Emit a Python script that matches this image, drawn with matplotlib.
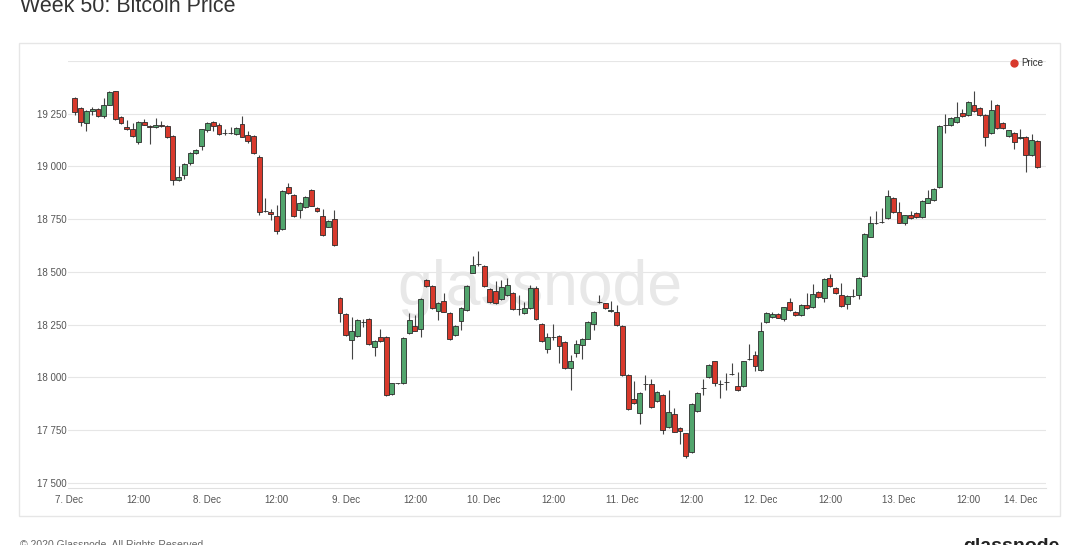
import matplotlib.pyplot as plt
from matplotlib.patches import Rectangle
from matplotlib.lines import Line2D

# Precio horario de Bitcoin, semana 50 (7-14 Dic 2020); x = horas desde 7 Dic 00:00
hours = list(range(1, 169))

opens = [19324, 19277, 19206, 19264, 19272, 19237, 19293, 19358, 19234, 19185,
         19177, 19114, 19210, 19192, 19185, 19197, 19193, 19146, 18937, 18961,
         19016, 19066, 19095, 19171, 19209, 19198, 19160, 19158, 19155, 19203,
         19150, 19146, 19047, 18790, 18785, 18763, 18703, 18905, 18866, 18794,
         18810, 18889, 18803, 18766, 18715, 18752, 18378, 18301, 18178, 18197,
         18265, 18279, 18146, 18190, 18193, 17922, 17972, 17972, 18209, 18244,
         18228, 18462, 18434, 18317, 18363, 18305, 18202, 18269, 18320, 18497,
         18536, 18529, 18418, 18409, 18371, 18391, 18402, 18323, 18305, 18328,
         18423, 18254, 18135, 18190, 18197, 18170, 18044, 18115, 18154, 18183,
         18254, 18358, 18352, 18317, 18312, 18244, 18012, 17897, 17830, 17969,
         17969, 17890, 17917, 17766, 17827, 17762, 17735, 17648, 17841, 17949,
         18000, 18076, 17968, 17979, 18016, 17960, 17960, 18088, 18107, 18036,
         18265, 18286, 18300, 18276, 18360, 18310, 18297, 18343, 18333, 18404,
         18375, 18473, 18425, 18391, 18349, 18387, 18391, 18481, 18668, 18731,
         18736, 18755, 18850, 18782, 18734, 18771, 18779, 18760, 18829, 18842,
         18905, 19197, 19198, 19209, 19253, 19245, 19293, 19277, 19245, 19158,
         19293, 19206, 19146, 19158, 19135, 19139, 19055, 19122]

closes = [19256, 19213, 19264, 19274, 19240, 19293, 19353, 19225, 19206, 19180,
          19146, 19211, 19198, 19188, 19195, 19194, 19139, 18934, 18950, 19013,
          19066, 19080, 19177, 19206, 19193, 19155, 19158, 19160, 19182, 19142,
          19119, 19064, 18782, 18788, 18774, 18692, 18885, 18874, 18766, 18829,
          18854, 18815, 18787, 18676, 18742, 18629, 18305, 18202, 18222, 18274,
          18262, 18159, 18174, 18173, 17917, 17972, 17973, 18186, 18274, 18222,
          18372, 18434, 18328, 18354, 18312, 18181, 18246, 18331, 18435, 18531,
          18540, 18434, 18359, 18354, 18431, 18439, 18323, 18324, 18331, 18423,
          18276, 18174, 18190, 18192, 18147, 18044, 18078, 18159, 18183, 18264,
          18312, 18360, 18328, 18318, 18249, 18012, 17849, 17878, 17928, 17970,
          17859, 17933, 17751, 17835, 17743, 17748, 17629, 17874, 17928, 17950,
          18060, 17975, 17969, 17980, 18017, 17941, 18076, 18089, 18054, 18222,
          18305, 18300, 18284, 18333, 18320, 18297, 18343, 18330, 18395, 18383,
          18465, 18434, 18399, 18339, 18387, 18388, 18470, 18679, 18731, 18732,
          18737, 18858, 18782, 18734, 18768, 18758, 18760, 18835, 18850, 18893,
          19190, 19196, 19230, 19234, 19240, 19308, 19261, 19245, 19142, 19269,
          19182, 19182, 19171, 19114, 19142, 19055, 19126, 18997]

highs = [19330, 19280, 19270, 19280, 19276, 19324, 19358, 19360, 19240, 19218,
         19206, 19214, 19225, 19198, 19228, 19215, 19198, 19150, 19003, 19018,
         19070, 19085, 19180, 19210, 19215, 19205, 19180, 19185, 19186, 19240,
         19170, 19150, 19055, 18851, 18800, 18818, 18888, 18923, 18870, 18832,
         18858, 18892, 18806, 18799, 18746, 18795, 18382, 18305, 18285, 18278,
         18275, 18282, 18178, 18230, 18196, 17975, 17976, 18191, 18307, 18297,
         18376, 18466, 18438, 18358, 18399, 18308, 18250, 18335, 18440, 18574,
         18601, 18533, 18422, 18459, 18462, 18470, 18405, 18391, 18359, 18440,
         18434, 18258, 18212, 18254, 18200, 18174, 18107, 18178, 18187, 18268,
         18316, 18392, 18355, 18364, 18343, 18248, 18015, 17983, 17932, 18010,
         17993, 17937, 17920, 17941, 17854, 17766, 17738, 17878, 17932, 17991,
         18064, 18080, 17988, 18021, 18067, 18027, 18080, 18157, 18127, 18265,
         18310, 18310, 18304, 18336, 18375, 18314, 18347, 18399, 18443, 18408,
         18470, 18490, 18430, 18446, 18392, 18419, 18474, 18684, 18763, 18787,
         18803, 18889, 18855, 18834, 18772, 18790, 18783, 18840, 18889, 18897,
         19195, 19250, 19235, 19308, 19272, 19312, 19356, 19281, 19249, 19316,
         19297, 19210, 19175, 19162, 19179, 19143, 19155, 19126]

lows = [19245, 19190, 19166, 19245, 19236, 19232, 19290, 19222, 19200, 19174,
        19140, 19106, 19195, 19108, 19182, 19188, 19135, 18913, 18930, 18940,
        19005, 19060, 19079, 19165, 19166, 19150, 19150, 19152, 19150, 19138,
        19112, 19060, 18770, 18782, 18745, 18681, 18700, 18870, 18762, 18755,
        18805, 18812, 18784, 18672, 18712, 18625, 18265, 18198, 18086, 18190,
        18240, 18155, 18100, 18170, 17914, 17918, 17968, 17970, 18205, 18218,
        18190, 18430, 18324, 18273, 18308, 18178, 18198, 18226, 18316, 18494,
        18530, 18428, 18352, 18350, 18365, 18387, 18320, 18297, 18300, 18324,
        18272, 18170, 18118, 18178, 18070, 18040, 17941, 18099, 18086, 18180,
        18226, 18354, 18325, 18312, 18245, 18008, 17845, 17874, 17780, 17941,
        17855, 17886, 17732, 17762, 17740, 17684, 17617, 17640, 17835, 17917,
        17996, 17960, 17903, 17941, 18010, 17937, 17955, 18085, 18032, 18032,
        18260, 18282, 18280, 18268, 18316, 18290, 18293, 18326, 18328, 18378,
        18360, 18430, 18394, 18334, 18323, 18383, 18370, 18477, 18664, 18728,
        18732, 18750, 18778, 18730, 18725, 18752, 18755, 18755, 18825, 18838,
        18900, 19158, 19194, 19205, 19236, 19240, 19257, 19240, 19098, 19154,
        19178, 19178, 19142, 19083, 19130, 18972, 19050, 18993]

tick_hours = [0, 12, 24, 36, 48, 60, 72, 84, 96, 108, 120, 132, 144, 156, 168]
tick_labels = ['7. Dec', '12:00', '8. Dec', '12:00', '9. Dec', '12:00', '10. Dec', '12:00',
               '11. Dec', '12:00', '12. Dec', '12:00', '13. Dec', '12:00', '14. Dec']
y_ticks = [17500, 17750, 18000, 18250, 18500, 18750, 19000, 19250]
y_labels = ['17 500', '17 750', '18 000', '18 250', '18 500', '18 750', '19 000', '19 250']

verde = '#52a56d'
rojo = '#d8392c'

plt.rcParams['font.family'] = ['Liberation Sans', 'DejaVu Sans']

fig = plt.figure(figsize=(10.8, 5.45), dpi=100)
fig.patch.set_facecolor('white')

# Marco del panel
fig.add_artist(Rectangle((19 / 1080, 1 - 516 / 545), (1060 - 19) / 1080, (516 - 43) / 545,
                         transform=fig.transFigure, facecolor='white', edgecolor='#e6e6e6',
                         linewidth=1.0, zorder=0))

ax = fig.add_axes([68 / 1080, 1 - 488 / 545, (1046 - 68) / 1080, (488 - 61) / 545])
ax.set_facecolor('none')

# Velas
for h, o, c, hi, lo in zip(hours, opens, closes, highs, lows):
    color = verde if c >= o else rojo
    ax.vlines(h, lo, hi, color='#444444', linewidth=0.8, zorder=2)
    ax.bar(h, abs(c - o), bottom=min(o, c), width=0.85, color=color,
           edgecolor='#2b2b2b', linewidth=0.6, zorder=3)

ax.set_xlim(-0.2, 169.5)
ax.set_ylim(17476, 19500)

# Rejilla
for y in y_ticks + [19500]:
    ax.axhline(y, color='#e6e6e6', linewidth=0.8, zorder=0)

ax.set_yticks(y_ticks)
ax.set_yticklabels(y_labels)
ax.set_xticks(tick_hours)
ax.set_xticklabels(tick_labels)
ax.tick_params(axis='y', length=0, pad=1, labelsize=7, labelcolor='#555555')
ax.tick_params(axis='x', length=0, pad=5, labelsize=7, labelcolor='#555555')
for lab in ax.get_xticklabels():
    if lab.get_text() == '14. Dec':
        lab.set_horizontalalignment('right')
        lab.set_x(169.5)

for s in ['top', 'right', 'left']:
    ax.spines[s].set_visible(False)
ax.spines['bottom'].set_color('#e0e0e0')
ax.spines['bottom'].set_linewidth(0.8)

# Marca de agua (detrás de las velas)
ax.text(540 / 1080, 1 - 288 / 545, 'glassnode', fontsize=45, color='#e8e8e8',
        ha='center', va='center', transform=fig.transFigure, zorder=1)

# Título
fig.text(20 / 1080, 1 - 12 / 545, 'Week 50: Bitcoin Price', fontsize=15.5, color='#333333',
         ha='left', va='baseline')

# Leyenda
fig.add_artist(Line2D([1014 / 1080], [1 - 63 / 545], marker='o', markersize=5,
                      color=rojo, linestyle='none', transform=fig.transFigure))
fig.text(1021 / 1080, 1 - 63 / 545, 'Price', fontsize=7, color='#333333',
         ha='left', va='center')

# Pie
fig.text(20 / 1080, 1 - 540 / 545, '© 2020 Glassnode. All Rights Reserved.', fontsize=7.5,
         color='#666666', ha='left', va='top')
fig.text(1060 / 1080, 1 - 538 / 545, 'glassnode', fontsize=14, fontweight='bold',
         color='#222222', ha='right', va='top')

fig.savefig('out.png', dpi=100)
